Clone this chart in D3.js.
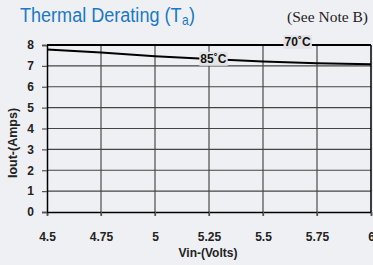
<!DOCTYPE html>
<html>
<head>
<meta charset="utf-8">
<script src="https://cdn.jsdelivr.net/npm/d3@7"></script>
<style>
  body { margin: 0; background: #eff0f4; }
  svg { display: block; }
</style>
</head>
<body>
<script>
const xTicks = [4.5, 4.75, 5, 5.25, 5.5, 5.75, 6];
const yTicks = [0, 1, 2, 3, 4, 5, 6, 7, 8];

// derating curves, Iout vs Vin
const vin = [4.5, 4.75, 5, 5.25, 5.5, 5.75, 6];
const iout85 = [7.78, 7.64, 7.46, 7.33, 7.21, 7.13, 7.08];
const iout70 = [8, 8, 8, 8, 8, 8, 8];

const w = 373;
const h = 265;
const sans = "Liberation Sans, Arial, sans-serif";

const svg = d3.select("body")
  .append("svg")
  .attr("width", w)
  .attr("height", h);

const x = d3.scaleLinear().domain([4.5, 6]).range([47, 371]);
const y = d3.scaleLinear().domain([0, 8]).range([212, 45]);

// title: narrow face, squeezed horizontally
const tg = svg.append("g").attr("transform", "translate(20,22) scale(0.86,1)");
const t1 = tg.append("text")
  .attr("font-family", sans)
  .attr("font-size", 21)
  .attr("fill", "#1a78c8")
  .text("Thermal Derating (T");
let tx = t1.node().getComputedTextLength() + 0.5;
const t2 = tg.append("text")
  .attr("x", tx)
  .attr("y", 3)
  .attr("font-family", sans)
  .attr("font-size", 14)
  .attr("fill", "#1a78c8")
  .text("a");
tx += t2.node().getComputedTextLength() + 0.5;
tg.append("text")
  .attr("x", tx)
  .attr("font-family", sans)
  .attr("font-size", 21)
  .attr("fill", "#1a78c8")
  .text(")");

svg.append("text")
  .attr("x", 368)
  .attr("y", 22)
  .attr("text-anchor", "end")
  .attr("font-family", "Liberation Serif, Times New Roman, serif")
  .attr("font-size", 15.5)
  .attr("fill", "#222")
  .text("(See Note B)");

// grid
svg.selectAll(".vgrid")
  .data(xTicks.slice(1, -1))
  .enter()
  .append("line")
  .attr("class", "vgrid")
  .attr("x1", d => x(d))
  .attr("x2", d => x(d))
  .attr("y1", y(8))
  .attr("y2", y(0) + 4)
  .attr("stroke", "#6d6d6d")
  .attr("stroke-width", 1.5);

svg.selectAll(".hgrid")
  .data(yTicks.slice(1, -1))
  .enter()
  .append("line")
  .attr("class", "hgrid")
  .attr("x1", x(4.5))
  .attr("x2", x(6))
  .attr("y1", d => y(d))
  .attr("y2", d => y(d))
  .attr("stroke", "#444")
  .attr("stroke-width", 1.2);

// axes
const xAxis = svg.append("g")
  .attr("transform", `translate(0,${y(0)})`)
  .call(d3.axisBottom(x).tickValues(xTicks).tickSize(4).tickFormat(d3.format("")));
const yAxis = svg.append("g")
  .attr("transform", `translate(${x(4.5)},0)`)
  .call(d3.axisLeft(y).tickValues(yTicks).tickSize(5).tickFormat(d3.format("d")));

[xAxis, yAxis].forEach(g => {
  g.select(".domain").attr("stroke", "#000").attr("stroke-width", 1.5);
  g.selectAll(".tick line").attr("stroke", "#555").attr("stroke-width", 1.2);
  g.selectAll("text")
    .attr("font-family", sans)
    .attr("font-weight", "bold")
    .attr("font-size", 12)
    .attr("fill", "#222");
});
xAxis.selectAll("text").attr("dy", 0).attr("y", 29);
yAxis.selectAll("text").attr("x", -13);

// right border
svg.append("line")
  .attr("x1", x(6)).attr("x2", x(6))
  .attr("y1", y(8)).attr("y2", y(0))
  .attr("stroke", "#000").attr("stroke-width", 1.5);

// curves
const line = d3.line().x((d, i) => x(vin[i])).y(d => y(d));
svg.append("path")
  .attr("d", line(iout70))
  .attr("fill", "none")
  .attr("stroke", "#000")
  .attr("stroke-width", 2.2);
svg.append("path")
  .attr("d", line(iout85))
  .attr("fill", "none")
  .attr("stroke", "#000")
  .attr("stroke-width", 2);

// curve labels
function tag(vx, vy, label) {
  const t = svg.append("text")
    .attr("x", x(vx))
    .attr("y", y(vy))
    .attr("dy", "0.35em")
    .attr("text-anchor", "middle")
    .attr("font-family", sans)
    .attr("font-weight", "bold")
    .attr("font-size", 12)
    .attr("fill", "#111")
    .text(label);
  const b = t.node().getBBox();
  svg.insert("rect", () => t.node())
    .attr("x", b.x - 1).attr("y", b.y)
    .attr("width", b.width + 2).attr("height", b.height)
    .attr("fill", "#e4e4e6");
}
tag(5.27, 7.35, "85˚C");
tag(5.66, 8.15, "70˚C");

// axis titles
svg.append("text")
  .attr("x", 208)
  .attr("y", 257)
  .attr("text-anchor", "middle")
  .attr("font-family", sans)
  .attr("font-weight", "bold")
  .attr("font-size", 12)
  .attr("fill", "#222")
  .text("Vin-(Volts)");

svg.append("text")
  .attr("transform", "translate(17,143) rotate(-90)")
  .attr("text-anchor", "middle")
  .attr("font-family", sans)
  .attr("font-weight", "bold")
  .attr("font-size", 12.5)
  .attr("fill", "#222")
  .text("Iout-(Amps)");
</script>
</body>
</html>
